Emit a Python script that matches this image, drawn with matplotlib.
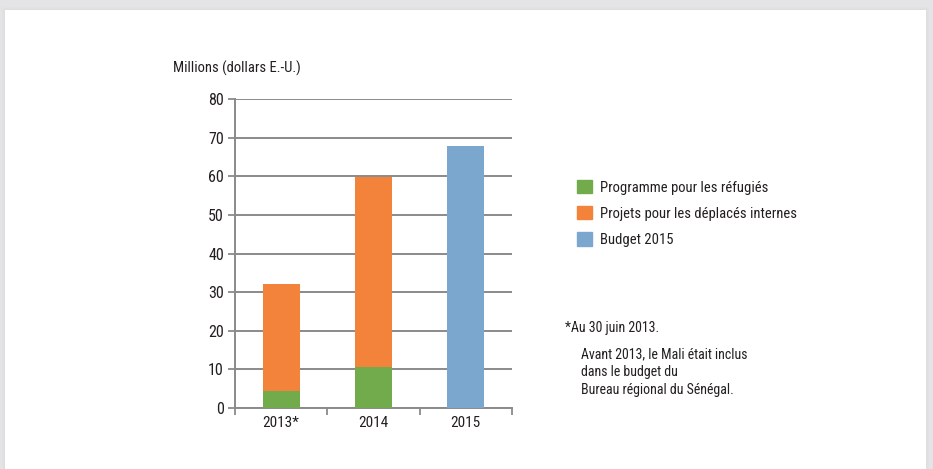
import matplotlib.pyplot as plt
from matplotlib.patches import Rectangle
from matplotlib import font_manager

# data
years = ["2013*", "2014", "2015"]
refugies = [4.4, 10.5, 0]
deplaces = [27.8, 49.3, 0]
budget = [0, 0, 67.8]
yticks = [0, 10, 20, 30, 40, 50, 60, 70, 80]
legend_labels = ["Programme pour les réfugiés",
                 "Projets pour les déplacés internes",
                 "Budget 2015"]
note_lines = ["Avant 2013, le Mali était inclus",
              "dans le budget du",
              "Bureau régional du Sénégal."]

green = "#72ab4c"
orange = "#f3823a"
blue = "#7ba6ce"
grid_col = "#8a8a8a"
txt = "#231f20"

names = {f.name for f in font_manager.fontManager.ttflist}
fam = [f for f in ["Liberation Sans Narrow", "Roboto Condensed", "DejaVu Sans"] if f in names]
plt.rcParams["font.family"] = fam
plt.rcParams["font.stretch"] = "condensed"

fig = plt.figure(figsize=(9.33, 4.69), dpi=100)
fig.patch.set_facecolor("#e4e4e6")
# white panel with soft shadow
for i, a in enumerate([0.05, 0.08, 0.12]):
    fig.patches.append(Rectangle(((5 - 3 + i) / 933, 0), (921 + 6 - 2 * i) / 933, (459 + 3 - i) / 469,
                                 transform=fig.transFigure, facecolor="#d0d0d4", alpha=a,
                                 edgecolor="none", zorder=-2))
fig.patches.append(Rectangle((5 / 933, 0), 921 / 933, 459 / 469, transform=fig.transFigure,
                             facecolor="white", edgecolor="none", zorder=-1))

ax = fig.add_axes([235 / 933, 61 / 469, 277 / 933, 309 / 469])
ax.set_zorder(1)
ax.set_facecolor("none")
x = range(len(years))
w = 0.4
ax.bar(x, refugies, w, color=green, zorder=3)
ax.bar(x, deplaces, w, bottom=refugies, color=orange, zorder=3)
ax.bar(x, budget, w, color=blue, zorder=3)

ax.set_xlim(-0.5, 2.5)
ax.set_ylim(0, 80)
ax.set_yticks(yticks)
ax.set_xticks(x)
ax.set_xticklabels(years)
ax.set_xticks([-0.5, 0.5, 1.5, 2.5], minor=True)
ax.tick_params(axis="x", which="major", length=0, pad=6, labelsize=11, labelcolor=txt)
ax.tick_params(axis="x", which="minor", length=5, width=1.3, color=grid_col)
ax.tick_params(axis="y", length=5, width=1.3, color=grid_col, labelsize=11.5, labelcolor=txt, pad=3)
ax.yaxis.grid(True, color=grid_col, linewidth=1.4, zorder=1)
for s in ["top", "right"]:
    ax.spines[s].set_visible(False)
for s in ["left", "bottom"]:
    ax.spines[s].set_color(grid_col)
    ax.spines[s].set_linewidth(1.4)

fig.text(173 / 933, 1 - 68 / 469, "Millions (dollars E.-U.)", fontsize=10.5, color=txt, va="center")

handles = [Rectangle((0, 0), 1, 1, color=c) for c in [green, orange, blue]]
fig.legend(handles, legend_labels, loc="upper left", bbox_to_anchor=(564 / 933, 1 - 167 / 469),
           frameon=False, fontsize=10.5, handlelength=1.0, handleheight=1.0, handletextpad=0.6,
           labelspacing=0.8, labelcolor=txt)

fig.text(565 / 933, 1 - 328 / 469, "*Au 30 juin 2013.", fontsize=10, color=txt, va="center")
for i, line in enumerate(note_lines):
    fig.text(581 / 933, 1 - (354 + 18 * i) / 469, line, fontsize=10, color=txt, va="center")

fig.savefig("out.png", dpi=100, facecolor=fig.get_facecolor())
